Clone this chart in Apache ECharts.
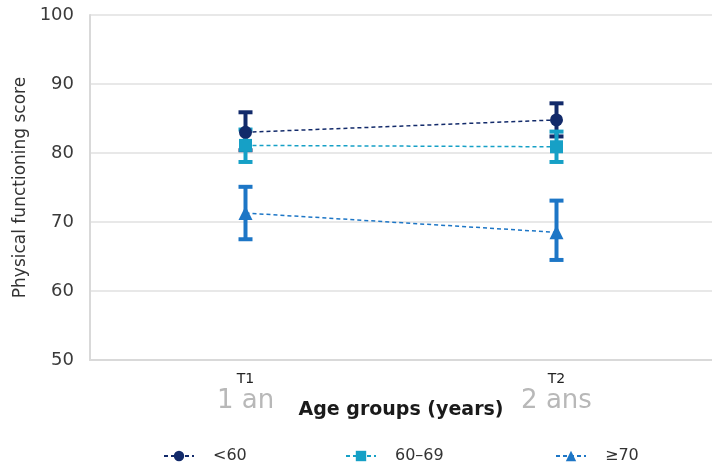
<!DOCTYPE html>
<html><head><meta charset="utf-8">
<script src="https://cdn.jsdelivr.net/npm/echarts@6/dist/echarts.min.js"></script>
<style>html,body{margin:0;padding:0;background:#fff}#c{width:712px;height:468px}</style>
</head><body><div id="c"></div>
<script>
var categories = ['T1', 'T2'];
var subLabels = ['1 an', '2 ans'];
var seriesNames = ['<60', '60–69', '≥70'];
var meanLt60 = [83.0, 84.8];
var mean6069 = [81.1, 80.9];
var meanGe70 = [71.3, 68.5];
var lowLt60 = [80.4, 82.4];
var highLt60 = [85.9, 87.2];
var low6069 = [78.7, 78.7];
var high6069 = [83.4, 83.1];
var lowGe70 = [67.5, 64.5];
var highGe70 = [75.1, 73.1];
var yTicks = [50, 60, 70, 80, 90, 100];

var colors = ['#122a6a', '#16a0c6', '#1d76c6'];
var symbols = ['circle', 'rect', 'triangle'];
var means = [meanLt60, mean6069, meanGe70];
var lows = [lowLt60, low6069, lowGe70];
var highs = [highLt60, high6069, highGe70];

var chart = echarts.init(document.getElementById('c'));
var font = '"DejaVu Sans", Verdana, sans-serif';

function errRender(color) {
  return function (params, api) {
    var x = api.value(0);
    var p1 = api.coord([x, api.value(1)]);
    var p2 = api.coord([x, api.value(2)]);
    var hw = 7;
    var st = {stroke: color, lineWidth: 4};
    return {type: 'group', children: [
      {type: 'line', shape: {x1: p1[0], y1: p1[1], x2: p2[0], y2: p2[1]}, style: st},
      {type: 'line', shape: {x1: p1[0] - hw, y1: p1[1], x2: p1[0] + hw, y2: p1[1]}, style: st},
      {type: 'line', shape: {x1: p2[0] - hw, y1: p2[1], x2: p2[0] + hw, y2: p2[1]}, style: st}
    ]};
  };
}

var series = [];
for (var i = 0; i < 3; i++) {
  var ed = categories.map(function (c, j) { return [j, lows[i][j], highs[i][j]]; });
  series.push({
    type: 'custom', name: seriesNames[i] + ' err', renderItem: errRender(colors[i]),
    data: ed, z: 2, encode: {x: 0, y: [1, 2]}, silent: true
  });
}
for (var k = 0; k < 3; k++) {
  series.push({
    type: 'line', name: seriesNames[k], data: means[k], z: 5 + k,
    symbol: symbols[k], symbolSize: symbols[k] === 'triangle' ? 14 : 13,
    itemStyle: {color: colors[k]},
    lineStyle: {color: colors[k], width: 1.5, type: [4, 3]}
  });
}

var legendLeft = [163, 345, 555];
var legends = seriesNames.map(function (n, i) {
  return {
    data: [n], left: legendLeft[i], top: 448, padding: 0, itemWidth: 30, itemHeight: 13, itemGap: 10,
    textStyle: {fontFamily: font, fontSize: 16, color: '#333', padding: [0, 0, 0, 14]}
  };
});

chart.setOption({
  animation: false,
  color: colors,
  legend: legends,
  grid: {left: 90, right: -12, top: 15, bottom: 108},
  xAxis: {
    type: 'category', data: categories, boundaryGap: true,
    axisLine: {show: true, lineStyle: {color: '#d9d9d9', width: 2}},
    axisTick: {show: false},
    axisLabel: {
      margin: 11,
      formatter: function (v, idx) { return '{a|' + v + '}\n{b|' + subLabels[idx] + '}'; },
      rich: {
        a: {fontFamily: font, fontSize: 14, color: '#222', lineHeight: 16},
        b: {fontFamily: font, fontSize: 26, color: '#b8b8b8', lineHeight: 28}
      }
    },
    name: 'Age groups (years)', nameLocation: 'middle', nameGap: 41, nameMoveOverlap: false,
    nameTextStyle: {fontFamily: font, fontSize: 19, fontWeight: 'bold', color: '#1a1a1a'}
  },
  yAxis: {
    type: 'value', min: yTicks[0], max: yTicks[yTicks.length - 1], interval: 10,
    axisLine: {show: true, lineStyle: {color: '#d9d9d9', width: 2}},
    axisTick: {show: false},
    splitLine: {lineStyle: {color: '#e8e8e8', width: 2}},
    axisLabel: {fontFamily: font, fontSize: 18, color: '#3a3a3a', margin: 16},
    name: 'Physical functioning score', nameLocation: 'middle', nameGap: 58, nameRotate: 90,
    nameTextStyle: {fontFamily: font, fontSize: 17, color: '#333'}
  },
  series: series
});
</script></body></html>
